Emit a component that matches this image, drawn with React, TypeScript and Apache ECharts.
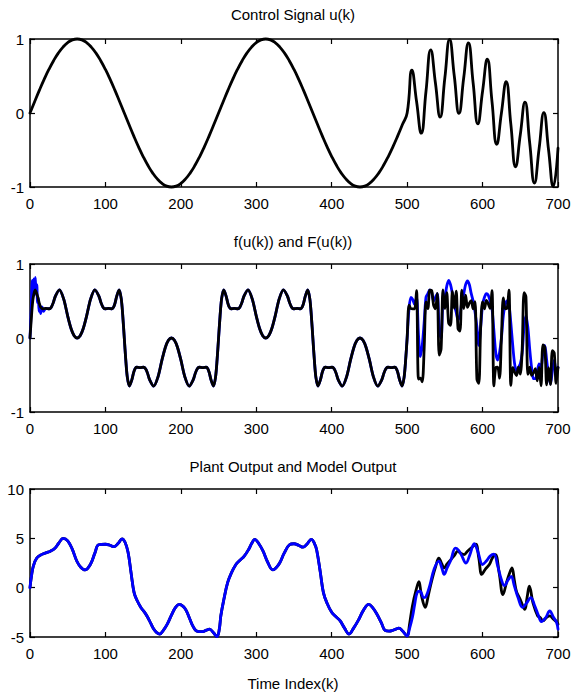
import React, { useEffect, useRef } from "react";
import * as echarts from "echarts";

const FONT = "'Liberation Sans', Arial, Helvetica, sans-serif";
const FONT_SIZE = 15;

// ---- Control signal u(k) ----
const controlSignal: [number, number][] = [
  [0, 0], [6.25, 0.156], [12.5, 0.309], [18.75, 0.454], [25, 0.588], [31.25, 0.707], [37.5, 0.809], [43.75, 0.891], [50, 0.951], [56.25, 0.988],
  [62.5, 1], [68.75, 0.988], [75, 0.951], [81.25, 0.891], [87.5, 0.809], [93.75, 0.707], [100, 0.588], [106.25, 0.454], [112.5, 0.309], [118.75, 0.156],
  [125, 0], [131.25, -0.156], [137.5, -0.309], [143.75, -0.454], [150, -0.588], [156.25, -0.707], [162.5, -0.809], [168.75, -0.891], [175, -0.951], [181.25, -0.988],
  [187.5, -1], [193.75, -0.988], [200, -0.951], [206.25, -0.891], [212.5, -0.809], [218.75, -0.707], [225, -0.588], [231.25, -0.454], [237.5, -0.309], [243.75, -0.156],
  [250, 0], [256.25, 0.156], [262.5, 0.309], [268.75, 0.454], [275, 0.588], [281.25, 0.707], [287.5, 0.809], [293.75, 0.891], [300, 0.951], [306.25, 0.988],
  [312.5, 1], [318.75, 0.988], [325, 0.951], [331.25, 0.891], [337.5, 0.809], [343.75, 0.707], [350, 0.588], [356.25, 0.454], [362.5, 0.309], [368.75, 0.156],
  [375, 0], [381.25, -0.156], [387.5, -0.309], [393.75, -0.454], [400, -0.588], [406.25, -0.707], [412.5, -0.809], [418.75, -0.891], [425, -0.951], [431.25, -0.988],
  [437.5, -1], [443.75, -0.988], [450, -0.951], [456.25, -0.891], [462.5, -0.809], [468.75, -0.707], [475, -0.588], [481.25, -0.454], [487.5, -0.309], [493.75, -0.156],
  [500, 0], [506.25, 0.578], [512.5, 0.155], [518.75, -0.273], [525, 0.294], [531.25, 0.854], [537.5, 0.405], [543.75, -0.054], [550, 0.476], [556.25, 0.994],
  [562.5, 0.5], [568.75, -0.006], [575, 0.476], [581.25, 0.946], [587.5, 0.405], [593.75, -0.146], [600, 0.294], [606.25, 0.727], [612.5, 0.155], [618.75, -0.422],
  [625, 0], [631.25, 0.422], [637.5, -0.155], [643.75, -0.727], [650, -0.294], [656.25, 0.146], [662.5, -0.405], [668.75, -0.946], [675, -0.476], [681.25, 0.006],
  [687.5, -0.5], [693.75, -0.994], [700, -0.476],
];

// ---- f(u(k)) for k = 0..500 ----
const plantNonlinearity: [number, number][] = [
  [0, 0], [2, 0.3], [4, 0.528], [6.8, 0.65], [10, 0.566], [12.1, 0.478], [14.2, 0.417], [16.4, 0.395], [20.8, 0.4], [25.6, 0.395], [28.2, 0.417], [30.9, 0.478], [33.7, 0.566], [39, 0.65], [44.6, 0.528], [49.9, 0.3], [54.5, 0.125], [58.5, 0.031],
  [62.5, 0], [66.5, 0.031], [70.5, 0.125], [75.1, 0.3], [80.4, 0.528], [86, 0.65], [91.3, 0.566], [94.1, 0.478], [96.8, 0.417], [99.4, 0.395], [104.2, 0.4], [108.6, 0.395], [110.8, 0.417], [112.9, 0.478], [115, 0.566], [118.2, 0.65], [121, 0.528], [123, 0.3],
  [125, 0], [127, -0.3], [129, -0.528], [131.8, -0.65], [135, -0.566], [137.1, -0.478], [139.2, -0.417], [141.4, -0.395], [145.8, -0.4], [150.6, -0.395], [153.2, -0.417], [155.9, -0.478], [158.7, -0.566], [164, -0.65], [169.6, -0.528], [174.9, -0.3], [179.5, -0.125], [183.5, -0.031],
  [187.5, 0], [191.5, -0.031], [195.5, -0.125], [200.1, -0.3], [205.4, -0.528], [211, -0.65], [216.3, -0.566], [219.1, -0.478], [221.8, -0.417], [224.4, -0.395], [229.2, -0.4], [233.6, -0.395], [235.8, -0.417], [237.9, -0.478], [240, -0.566], [243.2, -0.65], [246, -0.528], [248, -0.3],
  [250, 0], [252, 0.3], [254, 0.528], [256.8, 0.65], [260, 0.566], [262.1, 0.478], [264.2, 0.417], [266.4, 0.395], [270.8, 0.4], [275.6, 0.395], [278.2, 0.417], [280.9, 0.478], [283.7, 0.566], [289, 0.65], [294.6, 0.528], [299.9, 0.3], [304.5, 0.125], [308.5, 0.031],
  [312.5, 0], [316.5, 0.031], [320.5, 0.125], [325.1, 0.3], [330.4, 0.528], [336, 0.65], [341.3, 0.566], [344.1, 0.478], [346.8, 0.417], [349.4, 0.395], [354.2, 0.4], [358.6, 0.395], [360.8, 0.417], [362.9, 0.478], [365, 0.566], [368.2, 0.65], [371, 0.528], [373, 0.3],
  [375, 0], [377, -0.3], [379, -0.528], [381.8, -0.65], [385, -0.566], [387.1, -0.478], [389.2, -0.417], [391.4, -0.395], [395.8, -0.4], [400.6, -0.395], [403.2, -0.417], [405.9, -0.478], [408.7, -0.566], [414, -0.65], [419.6, -0.528], [424.9, -0.3], [429.5, -0.125], [433.5, -0.031],
  [437.5, 0], [441.5, -0.031], [445.5, -0.125], [450.1, -0.3], [455.4, -0.528], [461, -0.65], [466.3, -0.566], [469.1, -0.478], [471.8, -0.417], [474.4, -0.395], [479.2, -0.4], [483.6, -0.395], [485.8, -0.417], [487.9, -0.478], [490, -0.566], [493.2, -0.65], [496, -0.528], [498, -0.3],
  [500, 0],
];

// Start-up transient of the identified model F(u(k))
const modelNonlinearityStart: [number, number][] = [
  [0, 0], [1.5, 0.35], [3, 0.78], [4, 0.6], [5, 0.8], [6, 0.58], [7, 0.82], [8, 0.62], [9, 0.72], [10, 0.48],
  [11, 0.55], [12, 0.36], [13, 0.45], [14, 0.33], [16, 0.42], [18, 0.36], [20.8, 0.4], [25.6, 0.395],
];

// Time stamps for the test phase (k > 500)
const testK = [
  502.5, 505, 507.5, 510, 512.5, 515, 517.5, 520, 522.5, 525,
  527.5, 530, 532.5, 535, 537.5, 540, 542.5, 545, 547.5, 550,
  552.5, 555, 557.5, 560, 562.5, 565, 567.5, 570, 572.5, 575,
  577.5, 580, 582.5, 585, 587.5, 590, 592.5, 595, 597.5, 600,
  602.5, 605, 607.5, 610, 612.5, 615, 617.5, 620, 622.5, 625,
  627.5, 630, 632.5, 635, 637.5, 640, 642.5, 645, 647.5, 650,
  652.5, 655, 657.5, 660, 662.5, 665, 667.5, 670, 672.5, 675,
  677.5, 680, 682.5, 685, 687.5, 690, 692.5, 695, 697.5, 700,
];

const plantNonlinearityTest = [
  0.443, 0.397, 0.394, 0.394, 0.641, -0.556, -0.543, -0.591, -0.16, 0.487,
  0.398, 0.648, 0.643, 0.448, 0.395, 0.602, -0.23, -0.149, 0.649, 0.397,
  0.612, 0.2, 0.17, 0.63, 0.4, 0.633, 0.124, 0.093, 0.645, 0.397,
  0.58, 0.413, 0.472, 0.505, 0.395, 0.492, -0.557, -0.614, 0.155, 0.487,
  0.395, 0.507, 0.463, 0.398, 0.641, -0.648, -0.399, -0.394, -0.543, 0,
  0.543, 0.394, 0.399, 0.648, -0.641, -0.398, -0.463, -0.507, -0.395, -0.487,
  -0.155, 0.614, 0.557, -0.492, -0.395, -0.505, -0.472, -0.413, -0.58, -0.397,
  -0.645, -0.093, -0.124, -0.633, -0.4, -0.63, -0.17, -0.2, -0.612, -0.397,
];

const modelNonlinearityTest = [
  0.4, 0.55, 0.52, 0.45, 0.55, 0.05, -0.25, -0.1, 0.2, 0.55,
  0.6, 0.65, 0.62, 0.5, 0.55, 0.6, 0.1, 0, 0.5, 0.55,
  0.7, 0.78, 0.72, 0.6, 0.45, 0.35, 0.25, 0.3, 0.5, 0.6,
  0.72, 0.77, 0.72, 0.6, 0.5, 0.35, 0.15, -0.1, 0.15, 0.45,
  0.55, 0.6, 0.58, 0.5, 0.4, 0.1, -0.2, -0.3, -0.2, 0,
  0.3, 0.45, 0.5, 0.45, 0.2, -0.1, -0.35, -0.45, -0.4, -0.35,
  -0.2, 0.15, 0.3, 0.15, -0.15, -0.4, -0.55, -0.55, -0.45, -0.35,
  -0.4, -0.2, -0.1, -0.3, -0.5, -0.62, -0.45, -0.3, -0.45, -0.4,
];

// ---- Plant and model outputs ----
const outputIdentification: [number, number][] = [
  [0, 0], [2, 1.2], [4.5, 2.2], [9, 3.0], [15, 3.35], [22, 3.55], [27, 3.7], [33, 4.0], [38, 4.5], [44, 5.0],
  [50, 4.75], [56, 3.9], [62, 2.7], [67, 2.1], [73, 1.8], [80, 2.35], [86, 3.5], [91, 4.35], [100, 4.4], [106, 4.3],
  [111, 4.15], [117, 4.5], [122, 4.95], [126, 4.6], [130, 3.6], [134, 1.5], [138, -0.5], [142, -1.3], [147, -2.0], [152, -2.5],
  [156, -3.0], [160, -3.6], [164, -4.2], [168, -4.55], [172, -4.7], [177, -4.3], [182, -3.7], [188, -2.7], [193, -2.0], [198, -1.7],
  [203, -1.9], [207, -2.3], [212, -3.2], [216, -3.9], [220, -4.35], [225, -4.45], [229, -4.45], [234, -4.3], [238, -4.2], [243, -4.55],
  [248, -4.95], [251, -4.2], [253, -2.85], [257, -1.2], [262, 0.5], [267, 1.5], [273, 2.35], [278, 2.75], [284, 3.2], [290, 3.9],
  [294, 4.5], [298, 4.9], [303, 4.5], [309, 3.7], [315, 2.6], [322, 1.8], [326, 2.0], [331, 2.5], [337, 3.5], [344, 4.35],
  [350, 4.45], [356, 4.3], [362, 4.1], [367, 4.4], [373, 4.9], [377, 4.5], [380, 3.85], [385, 1.5], [389, -0.5], [394, -1.6],
  [400, -2.5], [405, -2.9], [411, -3.35], [417, -4.1], [423, -4.7], [429, -4.1], [436, -3.2], [442, -2.3], [449, -1.7], [454, -2.0],
  [460, -2.7], [466, -3.6], [471, -4.35], [476, -4.4], [480, -4.35], [485, -4.2], [489, -4.1], [494, -4.4], [500, -4.9],
];

const plantOutputTest: [number, number][] = [
  [503, -3.8], [507, -1.85], [512, -0.2], [515.6, 0.6], [519, -0.8], [524, -2.0], [528, -0.8], [533, 0.85], [538, 2.2], [542, 3.0],
  [546, 2.4], [549, 2.0], [553, 2.4], [558, 2.85], [563, 3.3], [567, 3.7], [571, 3.5], [575.6, 3.35], [580, 3.7], [586, 4.1],
  [591, 4.4], [595, 3.0], [599, 1.35], [604, 1.9], [609, 2.35], [613, 3.0], [617, 3.35], [622, 1.5], [627, -0.7], [632, 0.6],
  [636, 1.5], [639, 2.0], [642, 0.8], [645, -0.4], [650, -1.2], [656, -2.2], [659, -1.0], [662, 0.15], [667, -1.6], [673, -2.85],
  [676, -3.0], [680, -3.35], [685, -3.0], [689, -2.85], [694, -3.2], [698, -3.45], [700, -3.7],
];

const modelOutputTest: [number, number][] = [
  [503, -4.2], [507, -3.0], [510, -1.7], [513.3, -0.5], [517, -0.35], [522, -1.0], [525, -0.9], [530, 0.2], [535.6, 1.85], [542, 2.7],
  [546, 2.0], [549, 1.35], [553, 2.0], [558, 2.8], [564, 4.0], [568, 3.8], [572, 3.3], [578, 2.5], [583, 3.3], [589, 4.45],
  [594, 3.6], [600, 2.35], [605, 2.7], [610, 3.2], [615, 3.4], [620, 2.2], [625, 0.8], [629, 0.2], [634, 0.8], [638, 1.15],
  [642, 0.2], [647, -1.0], [653, -2.0], [658, -1.6], [664, -1.0], [669, -1.8], [674, -2.8], [678, -3.45], [684, -3.0], [689, -2.35],
  [694, -3.0], [698, -3.5], [700, -4.2],
];

const panelTitles = ["Control Signal u(k)", "f(u(k)) and F(u(k))", "Plant Output and Model Output"];
const xAxisTitle = "Time Index(k)";

const GRID_LEFT = 30;
const GRID_WIDTH = 528;
const GRID_TOPS = [39, 264, 489];
const GRID_HEIGHT = 148;

const BLACK = "#000000";
const BLUE = "#0000ff";
const LINE_W = 2.8;

function xAxes(gridIndex: number) {
  const base = {
    gridIndex,
    type: "value" as const,
    min: 0,
    max: 700,
    interval: 100,
    splitLine: { show: false },
    axisLine: { show: true, onZero: false, lineStyle: { color: BLACK, width: 1.5 } },
    axisTick: { show: true, inside: true, length: 5, lineStyle: { color: BLACK, width: 1.2 } },
  };
  return [
    {
      ...base,
      position: "bottom",
      axisLabel: { show: true, color: BLACK, fontSize: FONT_SIZE, fontFamily: FONT, margin: 9 },
    },
    { ...base, position: "top", axisLabel: { show: false } },
  ];
}

function yAxes(gridIndex: number, min: number, max: number, interval: number) {
  const base = {
    gridIndex,
    type: "value" as const,
    min,
    max,
    interval,
    splitLine: { show: false },
    axisLine: { show: true, onZero: false, lineStyle: { color: BLACK, width: 1.5 } },
    axisTick: { show: true, inside: true, length: 5, lineStyle: { color: BLACK, width: 1.2 } },
  };
  return [
    {
      ...base,
      position: "left",
      axisLabel: { show: true, color: BLACK, fontSize: FONT_SIZE, fontFamily: FONT, margin: 6 },
    },
    { ...base, position: "right", axisLabel: { show: false } },
  ];
}

function lineSeries(name: string, panel: number, data: [number, number][], color: string, smooth: number) {
  return {
    name,
    type: "line" as const,
    xAxisIndex: panel * 2,
    yAxisIndex: panel * 2,
    data,
    symbol: "none",
    showSymbol: false,
    smooth,
    clip: false,
    lineStyle: { color, width: LINE_W, join: "round", cap: "round" },
  };
}

export default function App() {
  const ref = useRef<HTMLDivElement>(null);

  useEffect(() => {
    if (!ref.current) return;
    const chart = echarts.init(ref.current, undefined, { renderer: "svg" });

    const plantF: [number, number][] = [
      ...plantNonlinearity,
      ...testK.map((k, i) => [k, plantNonlinearityTest[i]] as [number, number]),
    ];
    const modelF: [number, number][] = [
      ...modelNonlinearityStart,
      ...plantNonlinearity.filter((p) => p[0] > 26),
      ...testK.map((k, i) => [k, modelNonlinearityTest[i]] as [number, number]),
    ];
    const plantY = [...outputIdentification, ...plantOutputTest];
    const modelY = [...outputIdentification, ...modelOutputTest];

    const titleStyle = { color: BLACK, fontSize: FONT_SIZE, fontWeight: "normal" as const, fontFamily: FONT };

    chart.setOption({
      animation: false,
      backgroundColor: "#ffffff",
      title: [
        { text: panelTitles[0], left: 293, top: 7, textAlign: "center", padding: 0, textStyle: titleStyle },
        { text: panelTitles[1], left: 293, top: 234, textAlign: "center", padding: 0, textStyle: titleStyle },
        { text: panelTitles[2], left: 293, top: 459, textAlign: "center", padding: 0, textStyle: titleStyle },
        { text: xAxisTitle, left: 293, top: 676, textAlign: "center", padding: 0, textStyle: titleStyle },
      ],
      grid: GRID_TOPS.map((top) => ({
        left: GRID_LEFT,
        top,
        width: GRID_WIDTH,
        height: GRID_HEIGHT,
        containLabel: false,
      })),
      xAxis: [...xAxes(0), ...xAxes(1), ...xAxes(2)],
      yAxis: [...yAxes(0, -1, 1, 1), ...yAxes(1, -1, 1, 1), ...yAxes(2, -5, 10, 5)],
      series: [
        lineSeries("u(k)", 0, controlSignal, BLACK, 0.5),
        lineSeries("F(u(k))", 1, modelF, BLUE, 0.3),
        lineSeries("f(u(k))", 1, plantF, BLACK, 0.3),
        lineSeries("Plant Output", 2, plantY, BLACK, 0.4),
        lineSeries("Model Output", 2, modelY, BLUE, 0.4),
      ],
    });

    return () => chart.dispose();
  }, []);

  return (
    <div
      ref={ref}
      style={{ position: "absolute", left: 0, top: 0, width: 580, height: 696, background: "#ffffff" }}
    />
  );
}
